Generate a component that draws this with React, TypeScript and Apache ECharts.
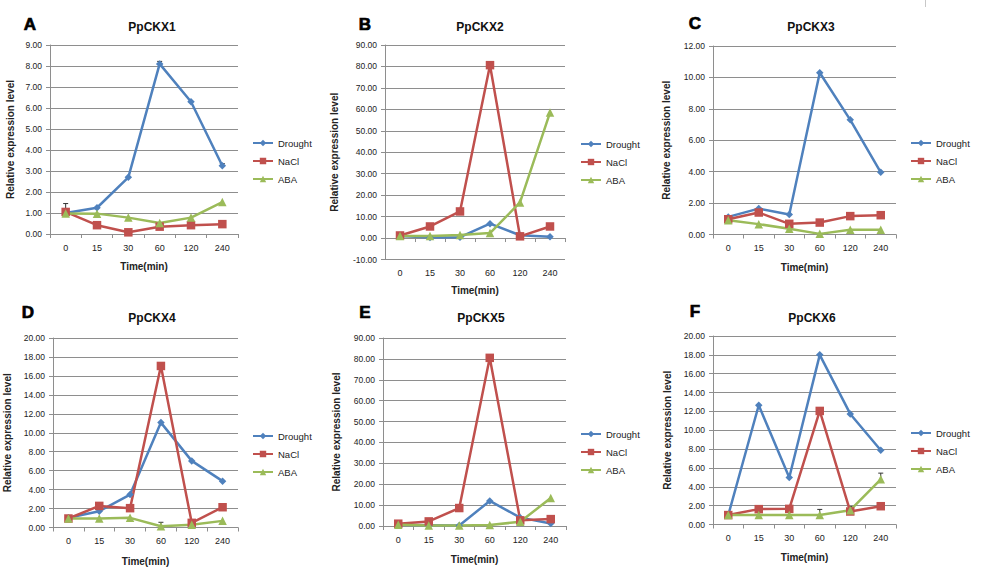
import React, { useEffect, useRef } from 'react';
import * as echarts from 'echarts';

// ---------- data ----------
const categories = ['0', '15', '30', '60', '120', '240'];
const seriesNames = ['Drought', 'NaCl', 'ABA'];
const panelTitles = ['PpCKX1', 'PpCKX2', 'PpCKX3', 'PpCKX4', 'PpCKX5', 'PpCKX6'];
const panelLetters = ['A', 'B', 'C', 'D', 'E', 'F'];
const yMins = [0, -10, 0, 0, 0, 0];
const yMaxs = [9, 90, 12, 20, 90, 20];
const yIntervals = [1, 10, 2, 2, 10, 2];

const ckx1Drought = [1.0, 1.25, 2.7, 8.1, 6.3, 3.25];
const ckx1NaCl = [1.05, 0.42, 0.08, 0.35, 0.42, 0.47];
const ckx1ABA = [0.98, 0.97, 0.78, 0.52, 0.78, 1.52];

const ckx2Drought = [1.0, 0.3, 0.4, 6.7, 1.3, 0.6];
const ckx2NaCl = [1.2, 5.4, 12.4, 80.6, 0.8, 5.4];
const ckx2ABA = [1.0, 1.0, 1.4, 2.3, 16.6, 58.5];

const ckx3Drought = [1.12, 1.65, 1.27, 10.3, 7.3, 3.96];
const ckx3NaCl = [0.97, 1.4, 0.68, 0.76, 1.17, 1.23];
const ckx3ABA = [0.91, 0.66, 0.36, 0.04, 0.3, 0.3];

const ckx4Drought = [1.02, 1.72, 3.48, 11.07, 7.03, 4.89];
const ckx4NaCl = [0.95, 2.28, 2.04, 17.05, 0.49, 2.14];
const ckx4ABA = [0.95, 0.95, 1.02, 0.14, 0.28, 0.7];

const ckx5Drought = [0.6, 0.4, 0.2, 12.0, 4.0, 1.2];
const ckx5NaCl = [1.1, 2.2, 8.6, 80.5, 2.7, 3.3];
const ckx5ABA = [0.6, 0.2, 0.2, 0.5, 2.0, 13.4];

const ckx6Drought = [0.99, 12.65, 4.98, 18.0, 11.73, 7.88];
const ckx6NaCl = [1.0, 1.63, 1.66, 12.05, 1.38, 1.94];
const ckx6ABA = [1.0, 1.0, 1.0, 1.0, 1.52, 4.8];

// error bars: [category index, low, high]
const ckx1Err = [[0, 1.05, 1.45], [3, 8.1, 8.22], [5, 3.25, 3.35]];
const ckx2Err: number[][] = [];
const ckx3Err: number[][] = [];
const ckx4Err = [[3, 0.14, 0.55]];
const ckx5Err: number[][] = [];
const ckx6Err = [[3, 1.0, 1.6], [4, 1.38, 1.9], [5, 4.8, 5.45]];

const panelData = [
  [ckx1Drought, ckx1NaCl, ckx1ABA],
  [ckx2Drought, ckx2NaCl, ckx2ABA],
  [ckx3Drought, ckx3NaCl, ckx3ABA],
  [ckx4Drought, ckx4NaCl, ckx4ABA],
  [ckx5Drought, ckx5NaCl, ckx5ABA],
  [ckx6Drought, ckx6NaCl, ckx6ABA],
];
const panelErr = [ckx1Err, ckx2Err, ckx3Err, ckx4Err, ckx5Err, ckx6Err];

// ---------- layout / style ----------
const layout = [
  { left: 50, top: 45, width: 188, height: 189, yGap: 35, xGap: 27, lgX: 252, lgY: 138, tX: 152, tY: 27, lX: 30, lY: 24 },
  { left: 385, top: 45, width: 180, height: 214.5, yGap: 46, xGap: 26, lgX: 580, lgY: 139, tX: 480, tY: 27, lX: 365, lY: 24 },
  { left: 713, top: 46, width: 183, height: 188.5, yGap: 42, xGap: 28, lgX: 910, lgY: 138, tX: 811, tY: 27, lX: 695, lY: 23 },
  { left: 53, top: 338, width: 185, height: 189.5, yGap: 41, xGap: 29, lgX: 252, lgY: 431, tX: 152, tY: 318, lX: 28, lY: 312 },
  { left: 383, top: 338, width: 183, height: 188, yGap: 42, xGap: 28, lgX: 580, lgY: 429, tX: 481, tY: 318, lX: 365, lY: 312 },
  { left: 713, top: 336, width: 183, height: 188.5, yGap: 41, xGap: 28, lgX: 910, lgY: 428, tX: 812, tY: 318, lX: 695, lY: 311 },
];
const colors = ['#4F81BD', '#C0504D', '#9BBB59'];
const symbols = ['diamond', 'rect', 'triangle'];
const symbolSizes = [7.5, 8.5, 8.5];
const FONT = '"Liberation Sans", Arial, sans-serif';
const GRID_COLOR = '#8e8e8e';

export default function App() {
  const ref = useRef<HTMLDivElement>(null);

  useEffect(() => {
    if (!ref.current) return;
    const chart = echarts.init(ref.current, undefined, { renderer: 'svg' });

    const grid: any[] = [];
    const xAxis: any[] = [];
    const yAxis: any[] = [];
    const series: any[] = [];
    const legend: any[] = [];
    const graphic: any[] = [];

    layout.forEach((L, i) => {
      grid.push({ left: L.left, top: L.top, width: L.width, height: L.height, containLabel: false });
      xAxis.push({
        type: 'category',
        gridIndex: i,
        data: categories,
        boundaryGap: true,
        axisLine: { lineStyle: { color: GRID_COLOR, width: 1 } },
        axisTick: { show: true, length: 4, lineStyle: { color: GRID_COLOR } },
        axisLabel: { fontSize: 9, color: '#222', margin: 9, fontFamily: FONT },
        name: 'Time(min)',
        nameLocation: 'middle',
        nameGap: L.xGap,
        nameTextStyle: { fontSize: 10, fontWeight: 'bold', color: '#222', fontFamily: FONT },
      });
      yAxis.push({
        type: 'value',
        gridIndex: i,
        min: yMins[i],
        max: yMaxs[i],
        interval: yIntervals[i],
        axisLine: { show: true, lineStyle: { color: GRID_COLOR, width: 1 } },
        axisTick: { show: true, length: 4, lineStyle: { color: GRID_COLOR } },
        splitLine: { show: true, lineStyle: { color: GRID_COLOR, width: 1 } },
        axisLabel: {
          fontSize: 8.5,
          color: '#222',
          margin: 8,
          fontFamily: FONT,
          formatter: (v: number) => v.toFixed(2),
        },
        name: 'Relative expression level',
        nameLocation: 'middle',
        nameRotate: 90,
        nameGap: L.yGap,
        nameTextStyle: { fontSize: 10, fontWeight: 'bold', color: '#222', fontFamily: FONT },
      });

      series.push({
        type: 'custom',
        name: 'err' + i,
        xAxisIndex: i,
        yAxisIndex: i,
        data: panelErr[i],
        encode: { x: 0, y: [1, 2] },
        z: 1,
        renderItem: (params: any, api: any) => {
          const idx = api.value(0);
          const lo = api.coord([idx, api.value(1)]);
          const hi = api.coord([idx, api.value(2)]);
          const style = { stroke: '#333', lineWidth: 1 };
          return {
            type: 'group',
            children: [
              { type: 'line', shape: { x1: lo[0], y1: lo[1], x2: hi[0], y2: hi[1] }, style },
              { type: 'line', shape: { x1: hi[0] - 2.5, y1: hi[1], x2: hi[0] + 2.5, y2: hi[1] }, style },
            ],
          };
        },
      });

      panelData[i].forEach((vals, s) => {
        series.push({
          type: 'line',
          name: seriesNames[s],
          xAxisIndex: i,
          yAxisIndex: i,
          data: vals,
          symbol: symbols[s],
          symbolSize: symbolSizes[s],
          showSymbol: true,
          z: 3,
          lineStyle: { color: colors[s], width: 2.5 },
          itemStyle: { color: colors[s] },
        });
      });

      legend.push({
        data: seriesNames,
        orient: 'vertical',
        left: L.lgX,
        top: L.lgY,
        itemWidth: 20,
        itemHeight: 8,
        itemGap: 8,
        padding: 0,
        selectedMode: false,
        textStyle: { fontSize: 9.5, color: '#222', fontFamily: FONT, lineHeight: 9 },
      });

      graphic.push({
        type: 'text',
        x: L.tX,
        y: L.tY,
        style: {
          text: panelTitles[i],
          fontSize: 12,
          fontWeight: 'bold',
          fill: '#111',
          fontFamily: FONT,
          align: 'center',
          verticalAlign: 'middle',
        },
      });
      graphic.push({
        type: 'text',
        x: L.lX,
        y: L.lY,
        style: {
          text: panelLetters[i],
          fontSize: 17,
          fontWeight: 'bold',
          fill: '#000',
          stroke: '#000',
          lineWidth: 0.7,
          fontFamily: FONT,
          align: 'center',
          verticalAlign: 'middle',
        },
      });
    });

    graphic.push({
      type: 'line',
      shape: { x1: 925.5, y1: 0, x2: 925.5, y2: 7 },
      style: { stroke: '#c8c8c8', lineWidth: 1 },
    });

    chart.setOption({
      animation: false,
      backgroundColor: '#ffffff',
      grid,
      xAxis,
      yAxis,
      series,
      legend,
      graphic,
    });

    return () => chart.dispose();
  }, []);

  return (
    <div
      ref={ref}
      style={{ position: 'absolute', left: 0, top: 0, width: 983, height: 581, background: '#fff' }}
    />
  );
}
